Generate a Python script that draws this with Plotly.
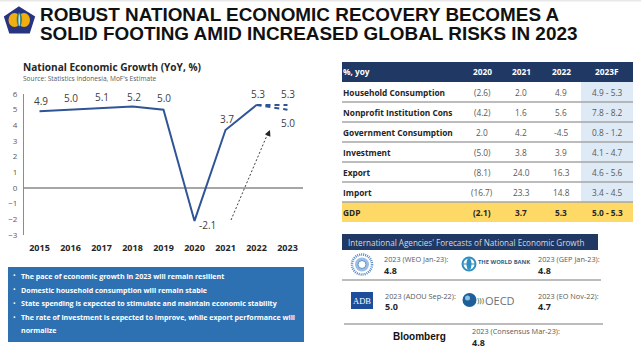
import plotly.graph_objects as go

years = [2015, 2016, 2017, 2018, 2019, 2020, 2021, 2022, 2023]
actual_years = [2015, 2016, 2017, 2018, 2019, 2020, 2021, 2022]
growth = [4.9, 5.0, 5.1, 5.2, 5.0, -2.1, 3.7, 5.3]
forecast_years = [2022, 2023]
forecast_high = [5.3, 5.3]
forecast_low = [5.3, 5.0]
y_ticks = [-3, -2, -1, 0, 1, 2, 3, 4, 5, 6]

table_header = ["%, yoy", "2020", "2021", "2022", "2023F"]
row_names = ["Household Consumption", "Nonprofit Institution Cons", "Government Consumption",
             "Investment", "Export", "Import", "GDP"]
col_2020 = ["(2.6)", "(4.2)", "2.0", "(5.0)", "(8.1)", "(16.7)", "(2.1)"]
col_2021 = ["2.0", "1.6", "4.2", "3.8", "24.0", "23.3", "3.7"]
col_2022 = ["4.9", "5.6", "-4.5", "3.9", "16.3", "14.8", "5.3"]
col_2023 = ["4.9 - 5.3", "7.8 - 8.2", "0.8 - 1.2", "4.1 - 4.7", "4.6 - 5.6", "3.4 - 4.5", "5.0 - 5.3"]

bullets = ["The pace of economic growth in 2023 will remain resilient",
           "Domestic household consumption will remain stable",
           "State spending is expected to stimulate and maintain economic stability",
           "The rate of investment is expected to improve, while export performance will",
           "normalize"]

W, H = 641, 351
FONT = "Open Sans"
NAVY = "#1F3864"
def px(x): return x / W
def py(y): return 1 - y / H

fig = go.Figure()
fig.add_trace(go.Scatter(x=actual_years, y=growth, mode="lines", line=dict(color="#2F5597", width=2), showlegend=False, hoverinfo="skip"))
fig.add_trace(go.Scatter(x=forecast_years, y=forecast_high, mode="lines", line=dict(color="#2F5597", width=2, dash="5px,4px"), showlegend=False, hoverinfo="skip"))
fig.add_trace(go.Scatter(x=forecast_years, y=forecast_low, mode="lines", line=dict(color="#2F5597", width=2, dash="5px,4px"), showlegend=False, hoverinfo="skip"))

shapes, ann = [], []
def rect(x0, y0, x1, y1, color, line=None, layer="below"):
    shapes.append(dict(type="rect", xref="paper", yref="paper", x0=px(x0), x1=px(x1), y0=py(y0), y1=py(y1),
                       fillcolor=color, line=dict(width=0 if not line else 1, color=line or color), layer=layer))
def hline(x0, x1, y, color="#A6A6A6", width=1.3):
    shapes.append(dict(type="line", xref="paper", yref="paper", x0=px(x0), x1=px(x1), y0=py(y), y1=py(y),
                       line=dict(color=color, width=width)))
def text(x, y, s, size=8, color="#404040", anchor="left", bold=False, family=FONT):
    ann.append(dict(xref="paper", yref="paper", x=px(x), y=py(y), text=f"<b>{s}</b>" if bold else s, showarrow=False,
                    xanchor=anchor, yanchor="middle", align=anchor, borderpad=0,
                    font=dict(size=size, color=color, family=family)))
def circle(cx, cy, r, fill, line=None, lw=1.5, ry=None, dash=None):
    ry = ry or r
    shapes.append(dict(type="circle", xref="paper", yref="paper", x0=px(cx - r), x1=px(cx + r), y0=py(cy + ry), y1=py(cy - ry),
                       fillcolor=fill, line=dict(color=line or fill, width=lw if line else 0, dash=dash or "solid")))

rect(0, 0, 641, 1.5, "#E8E8E8")

# Title and emblem
text(39, 14, "ROBUST NATIONAL ECONOMIC RECOVERY BECOMES A", 18.9, "#111111", bold=True, family="Liberation Sans")
text(39, 34, "SOLID FOOTING AMID INCREASED GLOBAL RISKS IN 2023", 18.9, "#111111", bold=True, family="Liberation Sans")
shapes.append(dict(type="path", xref="paper", yref="paper",
    path=f"M {px(19)},{py(7.5)} L {px(34)},{py(17)} L {px(29)},{py(32.5)} L {px(10)},{py(32.5)} L {px(5)},{py(17)} Z",
    fillcolor="#27347F", line=dict(color="#27347F", width=2)))
circle(14.5, 20, 6, "#F0AE10", ry=7)
circle(24, 20, 6, "#F0AE10", ry=7)
circle(19.3, 19.5, 2.6, "#2E7D7A", ry=7)
circle(19.3, 20, 0.9, "#C9E2DF", ry=6)

# Chart headings
text(22, 66.5, "National Economic Growth (YoY, %)", 10.1, "#262626", bold=True)
text(22, 78, "Source: Statistics Indonesia, MoF's Estimate", 6.6, "#595959")

# Value labels placed from the data
label_text = ["4.9", "5.0", "5.1", "5.2", "5.0", "-2.1", "3.7", "5.3"]
label_dy = [-10.5, -12, -11, -10, -12, 4.5, -11, -11]
label_dx = [1, 0, 0, 1, 0, 13, 1, 1]
for yr, v, t, dx, dy in zip(actual_years, growth, label_text, label_dx, label_dy):
    ann.append(dict(x=yr, y=v, xref="x", yref="y", text=t, showarrow=False, xshift=dx, yshift=-dy,
                    font=dict(size=10, color="#404040", family=FONT)))
for v, t, dx, dy in [(5.3, "5.3", 0, -11), (5.0, "5.0", 0, 13)]:
    ann.append(dict(x=2023, y=v, xref="x", yref="y", text=t, showarrow=False, xshift=dx, yshift=-dy,
                    font=dict(size=10, color="#404040", family=FONT)))

# Dashed trend arrow
shapes.append(dict(type="line", xref="paper", yref="paper", x0=px(231), y0=py(220), x1=px(268), y1=py(133),
                   line=dict(color="#404040", width=1, dash="2px,2px")))
ann.append(dict(xref="paper", yref="paper", axref="pixel", ayref="pixel", x=px(270), y=py(130), ax=-3, ay=7,
                text="", showarrow=True, arrowhead=2, arrowsize=1, arrowwidth=1.2, arrowcolor="#262626"))

# Blue commentary box
rect(8, 267, 304, 342, "#2E71B3")
for y, s, dot in zip([275.5, 289.5, 303, 317, 330], bullets, [1, 1, 1, 1, 0]):
    if dot:
        text(12, y, "•", 7, "white")
    text(20, y, s, 7.1, "white", bold=True)

# Table
rect(342, 62, 633, 82, NAVY)
rect(581, 82, 633, 202, "#DEEAF6")
rect(342, 202, 633, 222, "#FFD966")
col_x = [482, 521, 561, 607]
text(342, 72, table_header[0], 8.3, "white", bold=True)
for x, h in zip(col_x, table_header[1:]):
    text(x, 72, h, 8.3, "white", "center", True)
for i, name in enumerate(row_names):
    y = 92.5 + 20 * i
    gdp = name == "GDP"
    text(342, y, name, 8.3, "#262626", bold=True)
    for x, c in zip(col_x, (col_2020, col_2021, col_2022, col_2023)):
        text(x, y, c[i], 8.3, "#262626" if gdp else "#595959", "center", gdp)
    if i < 6:
        hline(342, 633, 102 + 20 * i)

# Forecasts panel
rect(342, 234, 598, 250, NAVY)
text(347, 242.5, "International Agencies' Forecasts of National Economic Growth", 8.1, "#D9D9D9")
hline(342, 601, 280); hline(344, 603, 324)
forecasts = [(383, 259, "2023 (WEO Jan-23):", "4.8"), (537, 259, "2023 (GEP Jan-23):", "4.8"),
             (384, 295.5, "2023 (ADOU Sep-22):", "5.0"), (537, 295.5, "2023 (EO Nov-22):", "4.7"),
             (471, 331, "2023 (Consensus Mar-23):", "4.8")]
for x, y, a, b in forecasts:
    text(x, y, a, 7.3, "#595959")
    text(x, y + 11, b, 9, "#262626", bold=True)

# Agency marks
circle(362, 264.5, 10, "#FFFFFF", "#4F86C6", lw=2.5, dash="1px,1px")
circle(362, 264.5, 7, "#9DBDE3")
circle(362, 264.5, 4, "#FFFFFF", "#5B92D0", lw=1)
circle(469, 264, 6.5, "#FFFFFF", "#2F8FBF", lw=2)
circle(469, 264, 2.5, "#2F8FBF", ry=6)
hline(463, 475, 264, "#2F8FBF", 1)
text(477, 262, "THE WORLD BANK", 5.8, "#1F5F86", bold=True)
rect(351, 292, 373, 309, "#1C4E9B")
text(362, 301, "ADB", 8.5, "white", "center", family="Liberation Serif")
circle(469.5, 300, 7, "#1E5F99")
circle(467.5, 298, 2.5, "#8DC0E0")
text(476, 300, ")))", 7, "#5F8F5F", bold=True)
text(484, 300, "OECD", 11, "#6A7078")
text(419, 336, "Bloomberg", 10, "#111111", bold=True, family="Liberation Sans", anchor="center")

fig.update_layout(
    width=W, height=H, margin=dict(l=0, r=0, t=0, b=0, autoexpand=False), paper_bgcolor="white", plot_bgcolor="white",
    showlegend=False, shapes=shapes, annotations=ann,
    xaxis=dict(domain=[px(24), px(303)], range=[2014.5, 2023.5], tickvals=years, ticktext=[str(y) for y in years],
               showgrid=False, zeroline=False, showline=False, ticks="", anchor="free", position=py(241),
               tickfont=dict(size=9, color="#262626", family=FONT, weight="bold")),
    yaxis=dict(domain=[py(235), py(94)], range=[-3, 6], tickvals=y_ticks, showgrid=False, zeroline=True,
               zerolinecolor="#A6A6A6", zerolinewidth=2, showline=True, linecolor="#8C8C8C", linewidth=1,
               ticks="", ticklabelstandoff=4, tickfont=dict(size=8, color="#595959", family=FONT)),
)
fig.write_html("out.html", config=dict(displayModeBar=False),
               post_script="document.body.style.margin='0';document.documentElement.style.overflow='hidden';")
